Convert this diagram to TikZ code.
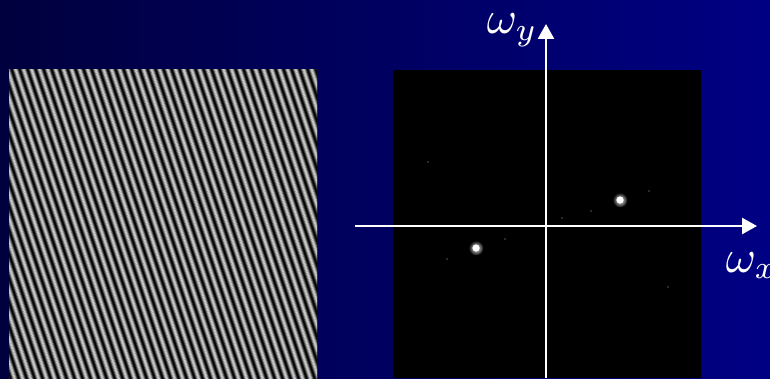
\documentclass[tikz,border=0pt]{standalone}
\usetikzlibrary{arrows.meta}
\begin{document}
\begin{tikzpicture}[x=1pt,y=1pt]
\tikzset{
  axisline/.style={white, line width=2.6pt, -{Triangle[length=15pt,width=16pt]}},
  faint/.style={fill=white!22!black},
  axlabel/.style={white, inner sep=0pt, scale=4.6},
}
\useasboundingbox (0,0) rectangle (770,378);
% background
\shade[left color={rgb,255:red,0;green,0;blue,62}, right color={rgb,255:red,0;green,0;blue,132}] (0,0) rectangle (770,378);
% grating image
\begin{scope}
  \clip (9,0) rectangle (317,308);
  \fill[black] (9,0) rectangle (317,308);
  \begin{scope}[shift={(163,154)}, rotate=18.43]
    \foreach \u in {-230,-229.5,...,230}{
      \pgfmathsetmacro\g{45+45*cos(\u/7.59*360)}
      \fill[white!\g!black] (\u,-260) rectangle ++(0.56,520);
    }
  \end{scope}
\end{scope}
% spectrum
\node[fill=black, minimum size=308pt, inner sep=0pt, outer sep=0pt] (spec) at (547,154) {};
\foreach \p in {(428,216),(505,139),(447,119),(649,187),(591,167),(668,91),(562,160)}{
  \fill[faint] \p circle (1.2);
}
\shade[inner color=white, outer color=black] (620,178) circle (7.5);
\fill[white] (620,178) circle (3.6);
\shade[inner color=white, outer color=black] (476,130) circle (7.5);
\fill[white] (476,130) circle (3.6);
% axes
\coordinate (xs) at (355,152);
\coordinate (xe) at (757,152);
\coordinate (ys) at (546,0);
\coordinate (ye) at (546,354);
\draw[axisline] (xs) -- (xe);
\draw[axisline] (ys) -- (ye);
% labels
\node[axlabel, anchor=base west] (wy) at (486,344) {$\omega_y$};
\node[axlabel, anchor=base west] (wx) at (725,106) {$\omega_x$};
\end{tikzpicture}
\end{document}
